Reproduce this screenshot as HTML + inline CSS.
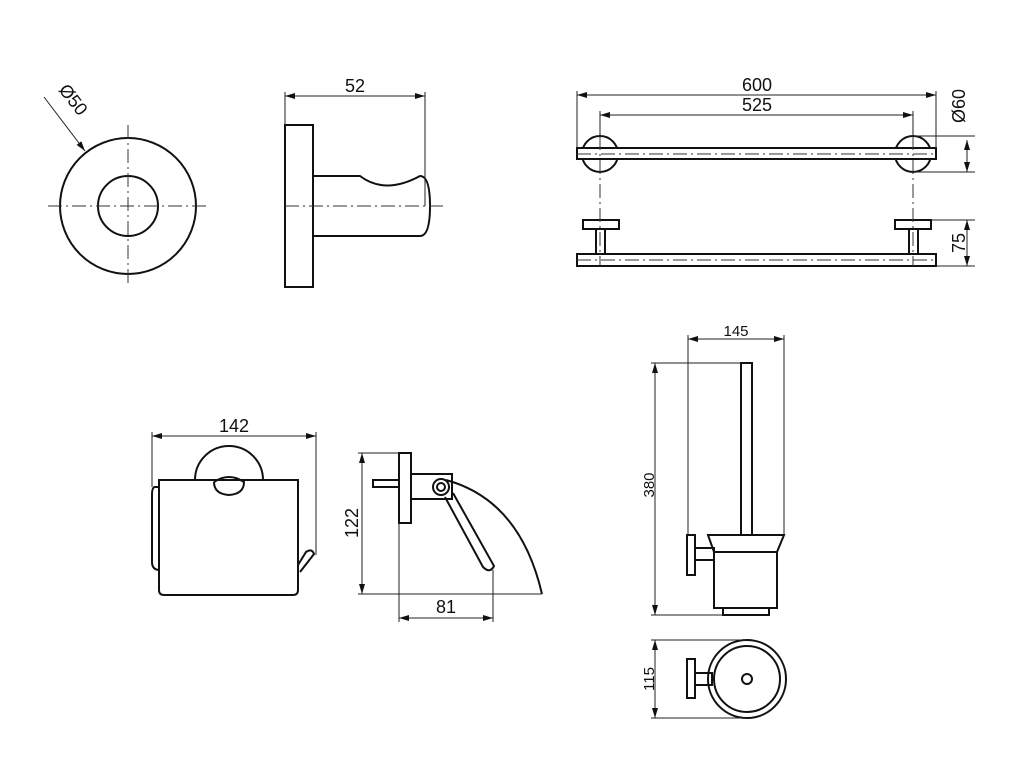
<!DOCTYPE html>
<html><head><meta charset="utf-8"><style>
html,body{margin:0;padding:0;background:#fff;}
svg{display:block;}
text{font-family:"Liberation Sans",Arial,sans-serif;font-size:18px;fill:#111;}
</style></head><body>
<svg width="1024" height="766" viewBox="0 0 1024 766" xmlns="http://www.w3.org/2000/svg">
<defs>
<marker id="a" viewBox="0 0 10 6" refX="10" refY="3" markerWidth="10" markerHeight="6" orient="auto-start-reverse" markerUnits="userSpaceOnUse"><path d="M0,0 L10,3 L0,6 z" fill="#111"/></marker>
</defs>
<g fill="none" stroke="#111" stroke-width="2">
<circle cx="128" cy="206" r="68"/>
<circle cx="128" cy="206" r="30"/>
<rect x="285" y="125" width="28" height="162"/>
<path d="M313,176 L360,176 Q385,195 420,176 Q430,176 430,206 Q430,236 420,236 L313,236"/>
<circle cx="600" cy="154" r="18"/>
<circle cx="913" cy="154" r="18"/>
<rect x="577" y="148" width="359" height="11" fill="#fff"/>
<rect x="583" y="220" width="36" height="9"/>
<rect x="895" y="220" width="36" height="9"/>
<rect x="596" y="229" width="9" height="25"/>
<rect x="909" y="229" width="9" height="25"/>
<rect x="577" y="254" width="359" height="12"/>
<path d="M195,480 A34,34 0 0 1 263,480"/>
<path d="M160,487 L155,487 Q152,487 152,495 L152,562 Q152,570 160,570"/>
<path d="M159,480 L298,480 L298,590 Q298,595 293,595 L164,595 Q159,595 159,590 Z"/>
<path d="M214,482 Q229,472 244,482 Q244,494 229,495 Q214,494 214,482"/>
<path d="M298,565 L306,552 Q312,548 314,554 L300,572"/>
<rect x="399" y="453" width="12" height="70"/>
<rect x="373" y="480" width="26" height="7"/>
<rect x="411" y="474" width="41" height="25"/>
<circle cx="441" cy="487" r="8"/>
<circle cx="441" cy="487" r="4"/>
<path d="M446,480 Q520,500 542,594"/>
<path d="M445,497 L483,567 Q490,574 494,566 L453,493"/>
<rect x="741" y="363" width="11" height="172"/>
<rect x="687" y="535" width="8" height="40"/>
<rect x="695" y="548" width="19" height="12"/>
<path d="M708,535 L784,535 L777,552 L714,552 Z"/>
<path d="M714,552 L714,608 L777,608 L777,552"/>
<rect x="723" y="608" width="46" height="7"/>
<circle cx="747" cy="679" r="39"/>
<circle cx="747" cy="679" r="33"/>
<circle cx="747" cy="679" r="5"/>
<rect x="687" y="659" width="8" height="39"/>
<rect x="695" y="673" width="17" height="12"/>
</g>
<g stroke="#333" stroke-width="1" stroke-dasharray="14,4,2,4" fill="none">
<line x1="48" y1="206" x2="210" y2="206"/>
<line x1="128" y1="125" x2="128" y2="287"/>
<line x1="285" y1="206" x2="446" y2="206"/>
<line x1="577" y1="154" x2="936" y2="154"/>
<line x1="577" y1="260" x2="936" y2="260"/>
<line x1="600" y1="136" x2="600" y2="266"/>
<line x1="913" y1="136" x2="913" y2="266"/>
</g>
<g stroke="#222" stroke-width="1" fill="none">
<line x1="44" y1="97" x2="85" y2="151" marker-end="url(#a)"/>
<line x1="285" y1="96" x2="425" y2="96" marker-start="url(#a)" marker-end="url(#a)"/>
<line x1="285" y1="92" x2="285" y2="125"/>
<line x1="425" y1="92" x2="425" y2="206"/>
<line x1="577" y1="95" x2="936" y2="95" marker-start="url(#a)" marker-end="url(#a)"/>
<line x1="577" y1="91" x2="577" y2="148"/>
<line x1="936" y1="91" x2="936" y2="148"/>
<line x1="600" y1="115" x2="913" y2="115" marker-start="url(#a)" marker-end="url(#a)"/>
<line x1="600" y1="111" x2="600" y2="136"/>
<line x1="913" y1="111" x2="913" y2="136"/>
<line x1="913" y1="136" x2="975" y2="136"/>
<line x1="913" y1="172" x2="975" y2="172"/>
<line x1="967" y1="140" x2="967" y2="172" marker-start="url(#a)" marker-end="url(#a)"/>
<line x1="931" y1="220" x2="975" y2="220"/>
<line x1="936" y1="266" x2="975" y2="266"/>
<line x1="967" y1="220" x2="967" y2="266" marker-start="url(#a)" marker-end="url(#a)"/>
<line x1="152" y1="436" x2="316" y2="436" marker-start="url(#a)" marker-end="url(#a)"/>
<line x1="152" y1="432" x2="152" y2="487"/>
<line x1="316" y1="432" x2="316" y2="555"/>
<line x1="362" y1="453" x2="362" y2="594" marker-start="url(#a)" marker-end="url(#a)"/>
<line x1="358" y1="453" x2="399" y2="453"/>
<line x1="358" y1="594" x2="542" y2="594"/>
<line x1="399" y1="618" x2="493" y2="618" marker-start="url(#a)" marker-end="url(#a)"/>
<line x1="399" y1="523" x2="399" y2="622"/>
<line x1="493" y1="570" x2="493" y2="622"/>
<line x1="688" y1="339" x2="784" y2="339" marker-start="url(#a)" marker-end="url(#a)"/>
<line x1="688" y1="335" x2="688" y2="535"/>
<line x1="784" y1="335" x2="784" y2="535"/>
<line x1="655" y1="363" x2="655" y2="615" marker-start="url(#a)" marker-end="url(#a)"/>
<line x1="651" y1="363" x2="741" y2="363"/>
<line x1="651" y1="615" x2="723" y2="615"/>
<line x1="655" y1="640" x2="655" y2="718" marker-start="url(#a)" marker-end="url(#a)"/>
<line x1="651" y1="640" x2="747" y2="640"/>
<line x1="651" y1="718" x2="747" y2="718"/>
</g>
<text x="0" y="0" transform="translate(58,90) rotate(52)">Ø50</text>
<text x="355" y="92" text-anchor="middle">52</text>
<text x="757" y="91" text-anchor="middle">600</text>
<text x="757" y="111" text-anchor="middle">525</text>
<text transform="translate(965,106) rotate(-90)" text-anchor="middle">Ø60</text>
<text transform="translate(965,243) rotate(-90)" text-anchor="middle">75</text>
<text x="234" y="432" text-anchor="middle">142</text>
<text transform="translate(358,523) rotate(-90)" text-anchor="middle">122</text>
<text x="446" y="613" text-anchor="middle">81</text>
<text x="736" y="336" text-anchor="middle" style="font-size:15px">145</text>
<text transform="translate(654,485) rotate(-90)" text-anchor="middle" style="font-size:15px">380</text>
<text transform="translate(654,679) rotate(-90)" text-anchor="middle" style="font-size:15px">115</text>
</svg>
</body></html>
